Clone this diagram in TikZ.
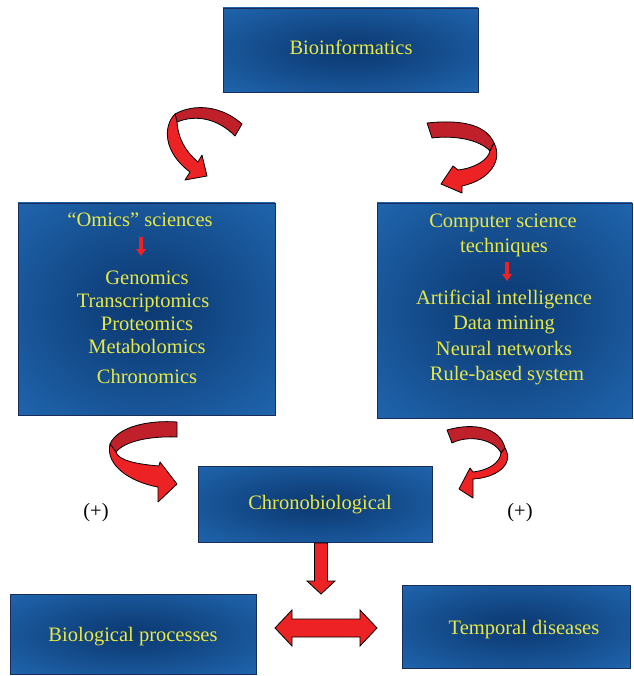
\documentclass[tikz,border=0pt]{standalone}
\usepackage{fontspec}
\setmainfont{Liberation Serif}
\usetikzlibrary{arrows.meta}
\definecolor{boxin}{RGB}{12,58,115}
\definecolor{boxout}{RGB}{33,104,178}
\definecolor{boxline}{RGB}{25,45,90}
\definecolor{ylw}{RGB}{232,232,70}
\definecolor{rdark}{RGB}{192,32,42}
\definecolor{rbright}{RGB}{237,34,36}
\pgfdeclareradialshading{boxshade}{\pgfpoint{0bp}{0bp}}{color(0bp)=(boxin); color(10bp)=(boxin!80!boxout); color(38bp)=(boxout); color(50bp)=(boxout)}
\begin{document}
\begin{tikzpicture}[x=1pt,y=-1pt,
  box/.style={rectangle, draw=boxline, line width=0.7pt, shading=boxshade, inner sep=0pt},
  txt/.style={text=ylw, font=\fontsize{20.5}{24}\selectfont, anchor=base, inner sep=0pt},
  plus/.style={text=black, font=\fontsize{20.5}{24}\selectfont, anchor=base, inner sep=0pt},
  ribd/.style={draw=black, line width=0.8pt, fill=rdark, line join=round},
  ribb/.style={draw=black, line width=0.8pt, fill=rbright, line join=round},
  blk/.style={draw=black, line width=0.8pt, fill=rbright, line join=miter},
  smallarr/.style={draw=rbright, line width=3.5pt, -{Triangle[length=7pt,width=9.5pt]}}]
\fill[white] (0,0) rectangle (633,676);
\useasboundingbox (0,0) rectangle (633,676);

% boxes
\node[box, minimum width=255pt, minimum height=84pt] (bio) at (350.5,50) {};
\node[box, minimum width=257pt, minimum height=212pt] (omics) at (146.5,309) {};
\node[box, minimum width=255pt, minimum height=215pt] (cs) at (504.5,310.5) {};
\node[box, minimum width=234pt, minimum height=76pt] (chrono) at (315,504) {};
\node[box, minimum width=246pt, minimum height=80pt] (bioproc) at (133,634) {};
\node[box, minimum width=228pt, minimum height=83pt] (temporal) at (516,626.5) {};

% texts
\node[txt] (tbio) at (351,55) {Bioinformatics};
\node[txt] (tomics) at (140,226) {“Omics” sciences};
\node[txt] (tgen) at (147,284) {Genomics};
\node[txt] (ttrans) at (143,307) {Transcriptomics};
\node[txt] (tprot) at (147,330) {Proteomics};
\node[txt] (tmeta) at (147,353) {Metabolomics};
\node[txt] (tchron) at (147,383) {Chronomics};
\node[txt] (tcs1) at (503,227) {Computer science};
\node[txt] (tcs2) at (504,252) {techniques};
\node[txt] (tai) at (504,304) {Artificial intelligence};
\node[txt] (tdm) at (504,329) {Data mining};
\node[txt] (tnn) at (504,355) {Neural networks};
\node[txt] (trb) at (507,380) {Rule-based system};
\node[txt] (tchrono) at (320,509) {Chronobiological};
\node[txt] (tbp) at (133,641) {Biological processes};
\node[txt] (ttd) at (524,634) {Temporal diseases};
\node[plus] (pl) at (96,517) {(+)};
\node[plus] (pr) at (520,517) {(+)};

% small arrows inside boxes
\coordinate (sa1) at (141,237);
\coordinate (sa1e) at (141,256);
\coordinate (sa2) at (507,262);
\coordinate (sa2e) at (507,281);
\draw[smallarr] (sa1) -- (sa1e);
\draw[smallarr] (sa2) -- (sa2e);

% curved ribbon arrows
% top-left
\path[ribd] (242,124) .. controls (222,106) and (195,103) .. (175,114) -- (177,122) .. controls (197,114) and (218,119) .. (235,136) -- cycle;
\path[ribb] (175,114) .. controls (163,126) and (163,152) .. (190,172) -- (185,180) -- (207,176) -- (202,155) -- (198,162) .. controls (184,150) and (178,137) .. (177,122) -- cycle;
% top-right
\path[ribd] (427,123) .. controls (455,120) and (485,122) .. (494,143) -- (490,151) .. controls (480,140) and (455,135) .. (432,138) -- cycle;
\path[ribb] (494,143) .. controls (503,160) and (490,180) .. (462,186) -- (462,193) -- (441,184) -- (453,166) -- (458,170) .. controls (475,168) and (488,160) .. (490,151) -- cycle;
% bottom-left
\path[ribd] (177,422) .. controls (150,420) and (118,426) .. (110,444) -- (116,452) .. controls (125,441) and (150,436) .. (177,437) -- cycle;
\path[ribb] (110,444) .. controls (105,465) and (130,482) .. (158,487) -- (158,502) -- (177,484) -- (160,462) -- (159,466) .. controls (135,464) and (118,460) .. (116,452) -- cycle;
% bottom-right
\path[ribd] (447,430) .. controls (475,422) and (500,428) .. (505,448) -- (501,453) .. controls (495,440) and (470,434) .. (452,443) -- cycle;
\path[ribb] (505,448) .. controls (515,465) and (495,478) .. (473,479) -- (473,498) -- (459,489) -- (470,468) -- (473,472) .. controls (490,470) and (500,462) .. (501,453) -- cycle;

% block arrows
\path[blk] (314.5,543) -- (327.5,543) -- (327.5,581) -- (335,581) -- (321,594) -- (307,581) -- (314.5,581) -- cycle;
\path[blk] (275,628) -- (292,610) -- (292,619) -- (360,619) -- (360,610) -- (377,628) -- (360,646) -- (360,637) -- (292,637) -- (292,646) -- cycle;
\end{tikzpicture}
\end{document}
